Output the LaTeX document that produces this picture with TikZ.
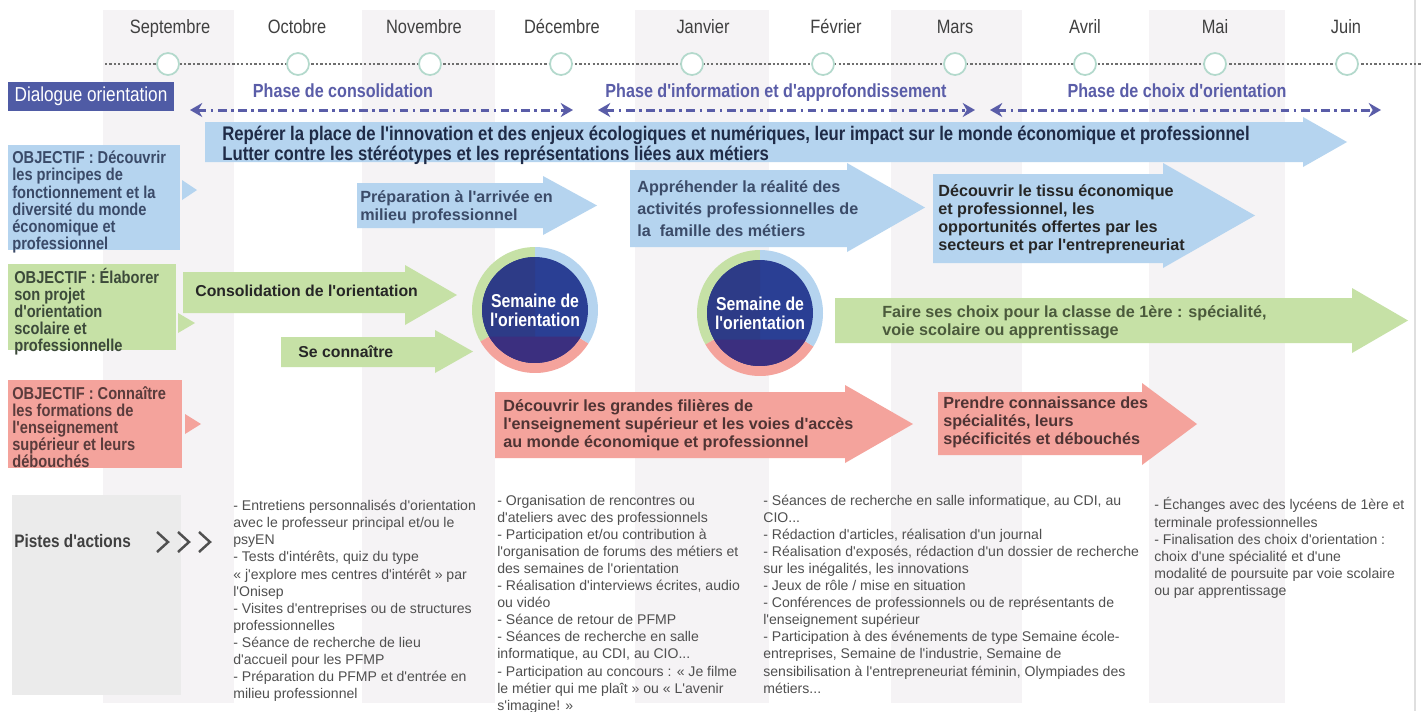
\documentclass[tikz,border=0pt]{standalone}
\usepackage{fontspec}
\setmainfont{Liberation Sans}[Ligatures=TeXOff]
\newfontfamily\narrowsf{Liberation Sans}[FakeStretch=0.85]
\usetikzlibrary{arrows.meta}

\definecolor{bleuclair}{HTML}{B5D4EF}
\definecolor{vertclair}{HTML}{C6E1A6}
\definecolor{saumon}{HTML}{F4A39C}
\definecolor{indigo}{HTML}{4F5BA5}
\definecolor{phasecol}{HTML}{5A5DA8}
\definecolor{colonne}{HTML}{F5F3F5}
\definecolor{jalonvert}{HTML}{B3D9CC}
\definecolor{grisfonce}{HTML}{404040}
\definecolor{grisaction}{HTML}{505050}
\definecolor{grispistes}{HTML}{EBEBEB}
\definecolor{disqueA}{HTML}{2D3B87}
\definecolor{disqueB}{HTML}{2A3F94}
\definecolor{disqueC}{HTML}{3B2F7F}
\definecolor{objbleu}{HTML}{3A4A68}
\definecolor{objvert}{HTML}{3C4A3A}
\definecolor{objrouge}{HTML}{5A3C3C}
\definecolor{txtbleu}{HTML}{3B4B68}
\definecolor{txtnavy}{HTML}{1F2B47}
\definecolor{txtvert}{HTML}{4B5A3C}
\definecolor{txtrouge}{HTML}{4F3434}
\definecolor{points}{HTML}{6E6E6E}

% color, x0, body top, body bottom, x head, head top, head bottom, x tip
\newcommand{\fleche}[8]{\fill[#1] (#2,#3) -- (#5,#3) -- (#5,#6) -- (#8,{(#6+#7)/2}) -- (#5,#7) -- (#5,#4) -- (#2,#4) -- cycle;}

\newcommand{\semaine}[3]{%
  \coordinate (#1) at (#2,#3);
  \fill[vertclair] (#1) -- ++(90:1.26cm) arc (90:210:1.26cm) -- cycle;
  \fill[saumon] (#1) -- ++(210:1.26cm) arc (210:328:1.26cm) -- cycle;
  \fill[bleuclair] (#1) -- ++(328:1.26cm) arc (328:450:1.26cm) -- cycle;
  \fill[disqueB] (#1) circle (1.06cm);
  \fill[disqueA] (#1) ++(90:1.06cm) arc (90:270:1.06cm) -- cycle;
  \fill[disqueC] (#1) ++(210:1.06cm) arc (210:330:1.06cm) -- cycle;
  \node[semtxt] (#1t) at (#1) {Semaine de\\l'orientation};}

\tikzset{
  moislabel/.style={anchor=base, inner sep=0pt, text=grisfonce, font=\narrowsf\fontsize{11}{13}\selectfont},
  jalon/.style={circle, draw=jalonvert, fill=white, line width=1pt, minimum size=0.44cm, inner sep=0pt},
  timeline/.style={draw=points, line width=1.3pt, dash pattern=on 1.3pt off 1.2pt},
  phaselabel/.style={anchor=base, inner sep=0pt, text=phasecol, font=\narrowsf\bfseries\fontsize{10.8}{13}\selectfont},
  phasefl/.style={{Stealth[length=7pt,width=8pt]}-{Stealth[length=7pt,width=8pt]}, draw=phasecol, line width=1.7pt, dash pattern=on 5pt off 2.5pt on 1.5pt off 2.5pt},
  dialbox/.style={fill=indigo, text=white, minimum width=3.32cm, minimum height=0.58cm, inner sep=0pt, font=\narrowsf\fontsize{11.5}{13}\selectfont},
  objtxt/.style={anchor=west, inner sep=0pt, align=left, font=\narrowsf\bfseries\fontsize{9.8}{9.7}\selectfont},
  fltxt/.style={anchor=west, inner sep=0pt, align=left, font=\bfseries\fontsize{9.2}{10.3}\selectfont},
  semtxt/.style={align=center, inner sep=0pt, text=white, font=\narrowsf\bfseries\fontsize{10.6}{10.8}\selectfont},
  pistes/.style={anchor=base west, inner sep=0pt, text=grisfonce, font=\narrowsf\bfseries\fontsize{10.3}{12}\selectfont},
  chevron/.style={draw=grisaction, line width=1.4pt},
  actions/.style={anchor=west, inner sep=0pt, align=left, text=grisaction, font=\fontsize{8}{9.73}\selectfont}
}

\begin{document}
\begin{tikzpicture}[x=0.02cm, y=-0.02cm]
  \useasboundingbox (0,0) rectangle (1423,711);
  \fill[white] (0,0) rectangle (1423,711);
  \foreach \a/\b in {103/234, 362/495, 635/769, 891/1022, 1149/1285}
    \fill[colonne] (\a,10) rectangle (\b,703);
  \draw[gray!25, line width=0.8pt] (1415,0) -- (1415,711);

  \draw[timeline] (105,64) -- (1423,64);
  \foreach \m/\x/\c [count=\i] in {Septembre/170/168, Octobre/297/298, Novembre/424/430, Décembre/562/561, Janvier/703/692, Février/836/823, Mars/955/955, Avril/1085/1085, Mai/1215/1215, Juin/1346/1347}
  {
    \node[moislabel] (m\i) at (\x,33.5) {\m};
    \node[jalon] (j\i) at (\c,64) {};
  }

  \node[dialbox] (dial) at (91,96.5) {Dialogue orientation};
  \node[phaselabel] (ph1) at (343,97.5) {Phase de consolidation};
  \node[phaselabel] (ph2) at (776,97.5) {Phase d'information et d'approfondissement};
  \node[phaselabel] (ph3) at (1177,97.5) {Phase de choix d'orientation};
  \coordinate (g1) at (190,110); \coordinate (d1) at (573,110);
  \coordinate (g2) at (598,110); \coordinate (d2) at (975,110);
  \coordinate (g3) at (990,110); \coordinate (d3) at (1381,110);
  \draw[phasefl] (g1) -- (d1);
  \draw[phasefl] (g2) -- (d2);
  \draw[phasefl] (g3) -- (d3);

  % objectifs
  \fill[bleuclair] (8,145) rectangle (180,250);
  \fill[bleuclair] (182,180) -- (197,190) -- (182,200) -- cycle;
  \node[objtxt, text=objbleu] (obj1) at (12,202) {OBJECTIF : Découvrir\\les principes de\\fonctionnement et la\\diversité du monde\\économique et\\professionnel};
  \fill[vertclair] (8,264) rectangle (176,350);
  \fill[vertclair] (178,313) -- (195,323) -- (178,333) -- cycle;
  \node[objtxt, text=objvert] (obj2) at (14,312) {OBJECTIF : Élaborer\\son projet\\d'orientation\\scolaire et\\professionnelle};
  \fill[saumon] (8,380) rectangle (182,468);
  \fill[saumon] (185,414) -- (201,424) -- (185,434) -- cycle;
  \node[objtxt, text=objrouge] (obj3) at (12,427) {OBJECTIF : Connaître\\les formations de\\l'enseignement\\supérieur et leurs\\débouchés};

  % fleches
  \fleche{bleuclair}{205}{122}{162}{1303}{117}{167}{1347}
  \node[objtxt, text=txtnavy, font=\narrowsf\bfseries\fontsize{11.2}{10.3}\selectfont] (rep) at (222,145) {Repérer la place de l'innovation et des enjeux écologiques et numériques, leur impact sur le monde économique et professionnel\\Lutter contre les stéréotypes et les représentations liées aux métiers};
  \fleche{bleuclair}{357}{183}{228}{543}{176}{235}{597}
  \node[fltxt, text=txtbleu] (prep) at (360,207) {Préparation à l'arrivée en\\milieu professionnel};
  \fleche{bleuclair}{630}{170}{247}{847}{163}{252}{925}
  \node[fltxt, text=txtbleu, font=\bfseries\fontsize{9.2}{12.5}\selectfont] (appr) at (637,209) {Appréhender la réalité des\\activités professionnelles de\\la\ \ famille des métiers};
  \fleche{bleuclair}{933}{174}{263}{1163}{163}{268}{1255}
  \node[fltxt, text=black!85] (tissu) at (938,219) {Découvrir le tissu économique\\et professionnel, les\\opportunités offertes par les\\secteurs et par l'entrepreneuriat};

  \fleche{vertclair}{183}{272}{313}{405}{265}{325}{457}
  \node[fltxt, anchor=base west, text=black!85, font=\bfseries\fontsize{9}{10.3}\selectfont] (conso) at (195,296) {Consolidation de l'orientation};
  \fleche{vertclair}{281}{337}{367}{435}{330}{373}{473}
  \node[fltxt, anchor=base west, text=black!85, font=\bfseries\fontsize{9}{10.3}\selectfont] (seco) at (298,357) {Se connaître};
  \fleche{vertclair}{835}{298}{343}{1352}{288}{353}{1408}
  \node[fltxt, text=txtvert] (choix) at (882,322) {Faire ses choix pour la classe de 1ère : spécialité,\\voie scolaire ou apprentissage};

  \fleche{saumon}{495}{392}{458}{845}{385}{463}{913}
  \node[fltxt, text=txtrouge] (fil) at (503,425) {Découvrir les grandes filières de\\l'enseignement supérieur et les voies d'accès\\au monde économique et professionnel};
  \fleche{saumon}{938}{392}{455}{1142}{383}{465}{1197}
  \node[fltxt, text=txtrouge] (prend) at (943,422) {Prendre connaissance des\\spécialités, leurs\\spécificités et débouchés};

  \semaine{sem1}{535}{310}
  \semaine{sem2}{760}{313}

  % pistes d'actions
  \fill[grispistes] (12,495) rectangle (181,695);
  \node[pistes] (pistes) at (14,547) {Pistes d'actions};
  \foreach \x in {157,178,199}
    \draw[chevron] (\x,532) -- (\x+11,542) -- (\x,552);

  \node[actions] (act1) at (233,601) {- Entretiens personnalisés d'orientation\\avec le professeur principal et/ou le\\psyEN\\- Tests d'intérêts, quiz du type\\« j'explore mes centres d'intérêt » par\\l'Onisep\\- Visites d'entreprises ou de structures\\professionnelles\\- Séance de recherche de lieu\\d'accueil pour les PFMP\\- Préparation du PFMP et d'entrée en\\milieu professionnel};
  \node[actions] (act2) at (497,604) {- Organisation de rencontres ou\\d'ateliers avec des professionnels\\- Participation et/ou contribution à\\l'organisation de forums des métiers et\\des semaines de l'orientation\\- Réalisation d'interviews écrites, audio\\ou vidéo\\- Séance de retour de PFMP\\- Séances de recherche en salle\\informatique, au CDI, au CIO...\\- Participation au concours : « Je filme\\le métier qui me plaît » ou « L'avenir\\s'imagine! »};
  \node[actions] (act3) at (763,594) {- Séances de recherche en salle informatique, au CDI, au\\CIO...\\- Rédaction d'articles, réalisation d'un journal\\- Réalisation d'exposés, rédaction d'un dossier de recherche\\sur les inégalités, les innovations\\- Jeux de rôle / mise en situation\\- Conférences de professionnels ou de représentants de\\l'enseignement supérieur\\- Participation à des événements de type Semaine école-\\entreprises, Semaine de l'industrie, Semaine de\\sensibilisation à l'entrepreneuriat féminin, Olympiades des\\métiers...};
  \node[actions] (act4) at (1154,548) {- Échanges avec des lycéens de 1ère et\\terminale professionnelles\\- Finalisation des choix d'orientation :\\choix d'une spécialité et d'une\\modalité de poursuite par voie scolaire\\ou par apprentissage};
\end{tikzpicture}
\end{document}
